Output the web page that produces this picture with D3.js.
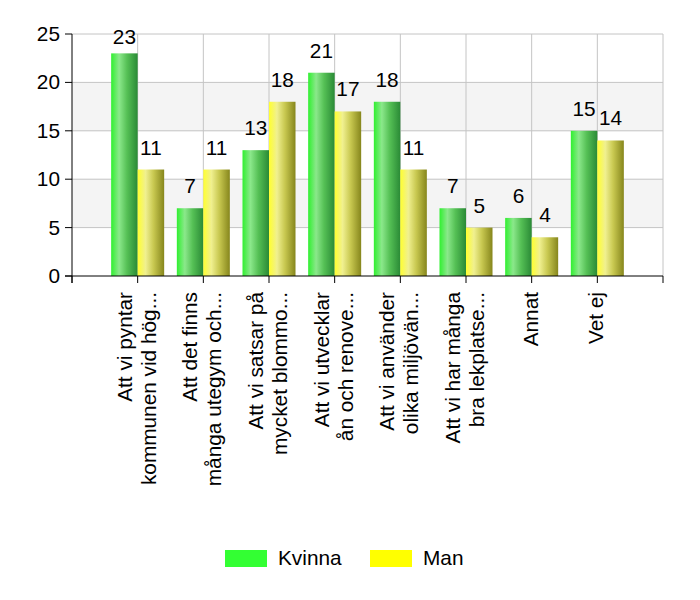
<!DOCTYPE html>
<html>
<head>
<meta charset="utf-8">
<script src="https://cdn.jsdelivr.net/npm/d3@7"></script>
<style>
  body { margin: 0; background: #fff; }
  text { font-family: Arial, "Liberation Sans", sans-serif; }
</style>
</head>
<body>
<div id="chart"></div>
<script>
// data
const categories = [
    "Att vi pyntar\nkommunen vid hög...",
    "Att det finns\nmånga utegym och...",
    "Att vi satsar på\nmycket blommo...",
    "Att vi utvecklar\nån och renove...",
    "Att vi använder\nolika miljövän...",
    "Att vi har många\nbra lekplatse...",
    "Annat",
    "Vet ej"
]
const seriesNames = ["Kvinna", "Man"]
const kvinnaValues = [23, 7, 13, 21, 18, 7, 6, 15]
const manValues = [11, 11, 18, 17, 11, 5, 4, 14]
const yTicks = [0, 5, 10, 15, 20, 25]

async function drawChart() {

  // dimensions
    let dimensions = {
        width: 700,
        height: 600,
        margin: {
            top: 34,
            right: 37,
            bottom: 324,
            left: 72,
        }
    }
    dimensions.boundedWidth = dimensions.width
        - dimensions.margin.left
        - dimensions.margin.right
    dimensions.boundedHeight = dimensions.height
        - dimensions.margin.top
        - dimensions.margin.bottom

    const fontSize = "20.8px"

    const svg = d3.select("#chart")
        .append("svg")
        .attr("width", dimensions.width)
        .attr("height", dimensions.height)

    const bounds = svg.append("g")
        .attr("transform", `translate(${dimensions.margin.left}, ${dimensions.margin.top})`)

  // scales
    const xScale = d3.scalePoint()
        .domain(categories)
        .range([0, dimensions.boundedWidth])
        .padding(1)
    const step = xScale.step()

    const yScale = d3.scaleLinear()
        .domain([0, 25])
        .range([dimensions.boundedHeight, 0])

  // gradients
    const defs = svg.append("defs")
    const gradients = [
        {id: "grad-kvinna", stops: ["#30f030", "#8be88b", "#55c055", "#2a8a36"]},
        {id: "grad-man", stops: ["#ffff30", "#f0f090", "#c8c850", "#86861c"]},
    ]
    gradients.forEach(g => {
        defs.append("linearGradient")
            .attr("id", g.id)
            .attr("x1", "0%").attr("x2", "100%")
            .attr("y1", "0%").attr("y2", "0%")
            .selectAll("stop")
            .data(g.stops)
            .enter().append("stop")
                .attr("offset", (d, i) => ["0%", "30%", "60%", "100%"][i])
                .attr("stop-color", d => d)
    })

  // background bands + grid
    const bands = [[5, 10], [15, 20]]
    bounds.selectAll(".band")
        .data(bands)
        .enter().append("rect")
        .attr("x", 0)
        .attr("width", dimensions.boundedWidth)
        .attr("y", d => yScale(d[1]))
        .attr("height", d => yScale(d[0]) - yScale(d[1]))
        .attr("fill", "#f4f4f4")

    bounds.selectAll(".hgrid")
        .data(yTicks.slice(1))
        .enter().append("line")
        .attr("x1", 0)
        .attr("x2", dimensions.boundedWidth)
        .attr("y1", d => yScale(d))
        .attr("y2", d => yScale(d))
        .attr("stroke", "#c4c4c4")

    const xTickPositions = d3.range(categories.length + 2).map(i => i * step)
    bounds.selectAll(".vgrid")
        .data(xTickPositions.slice(1))
        .enter().append("line")
        .attr("x1", d => d)
        .attr("x2", d => d)
        .attr("y1", 0)
        .attr("y2", dimensions.boundedHeight)
        .attr("stroke", "#c4c4c4")

  // bars
    const barWidth = 26.5
    const series = [
        {name: seriesNames[0], values: kvinnaValues, offset: -barWidth, fill: "url(#grad-kvinna)"},
        {name: seriesNames[1], values: manValues, offset: 0, fill: "url(#grad-man)"},
    ]
    series.forEach(s => {
        bounds.selectAll(".bar-" + s.name)
            .data(s.values)
            .enter().append("rect")
            .attr("x", (d, i) => xScale(categories[i]) + s.offset)
            .attr("width", barWidth)
            .attr("y", d => yScale(d))
            .attr("height", d => dimensions.boundedHeight - yScale(d))
            .attr("fill", s.fill)

        bounds.selectAll(".label-" + s.name)
            .data(s.values)
            .enter().append("text")
            .attr("x", (d, i) => xScale(categories[i]) + s.offset + barWidth / 2)
            .attr("y", d => Math.max(yScale(d) - 15, 10))
            .attr("text-anchor", "middle")
            .style("font-size", fontSize)
            .attr("fill", "#000")
            .text(d => d)
    })

  // axes
    const axisColor = "#000"
    bounds.append("line")
        .attr("x1", 0).attr("x2", 0)
        .attr("y1", 0).attr("y2", dimensions.boundedHeight + 7)
        .attr("stroke", axisColor)
    bounds.append("line")
        .attr("x1", -7).attr("x2", dimensions.boundedWidth)
        .attr("y1", dimensions.boundedHeight).attr("y2", dimensions.boundedHeight)
        .attr("stroke", axisColor)

    bounds.selectAll(".ytick")
        .data(yTicks)
        .enter().append("line")
        .attr("x1", -7).attr("x2", 0)
        .attr("y1", d => yScale(d)).attr("y2", d => yScale(d))
        .attr("stroke", axisColor)
    bounds.selectAll(".ylabel")
        .data(yTicks)
        .enter().append("text")
        .attr("x", -12)
        .attr("y", d => yScale(d) + 7)
        .attr("text-anchor", "end")
        .style("font-size", fontSize)
        .text(d => d)

    bounds.selectAll(".xtick")
        .data(xTickPositions)
        .enter().append("line")
        .attr("x1", d => d).attr("x2", d => d)
        .attr("y1", dimensions.boundedHeight)
        .attr("y2", dimensions.boundedHeight + 7)
        .attr("stroke", axisColor)

    const lineHeight = 24
    const catLabels = bounds.selectAll(".xlabel")
        .data(categories)
        .enter().append("text")
        .attr("transform", d => `translate(${xScale(d)}, ${dimensions.boundedHeight + 16}) rotate(-90)`)
        .attr("text-anchor", "end")
        .style("font-size", fontSize)
    catLabels.each(function(d) {
        const lines = d.split("\n")
        d3.select(this).selectAll("tspan")
            .data(lines)
            .enter().append("tspan")
            .attr("x", 0)
            .attr("y", (l, i) => 6 + (i - (lines.length - 1) / 2) * lineHeight)
            .text(l => l)
    })

  // legend
    const legendItems = [
        {name: seriesNames[0], color: "#33ff33", x: 225},
        {name: seriesNames[1], color: "#ffff00", x: 370},
    ]
    const legend = svg.append("g")
    legend.selectAll("rect")
        .data(legendItems)
        .enter().append("rect")
        .attr("x", d => d.x)
        .attr("y", 550)
        .attr("width", 42)
        .attr("height", 17)
        .attr("fill", d => d.color)
    legend.selectAll("text")
        .data(legendItems)
        .enter().append("text")
        .attr("x", d => d.x + 53)
        .attr("y", 565)
        .style("font-size", fontSize)
        .text(d => d.name)
}
drawChart()
</script>
</body>
</html>
